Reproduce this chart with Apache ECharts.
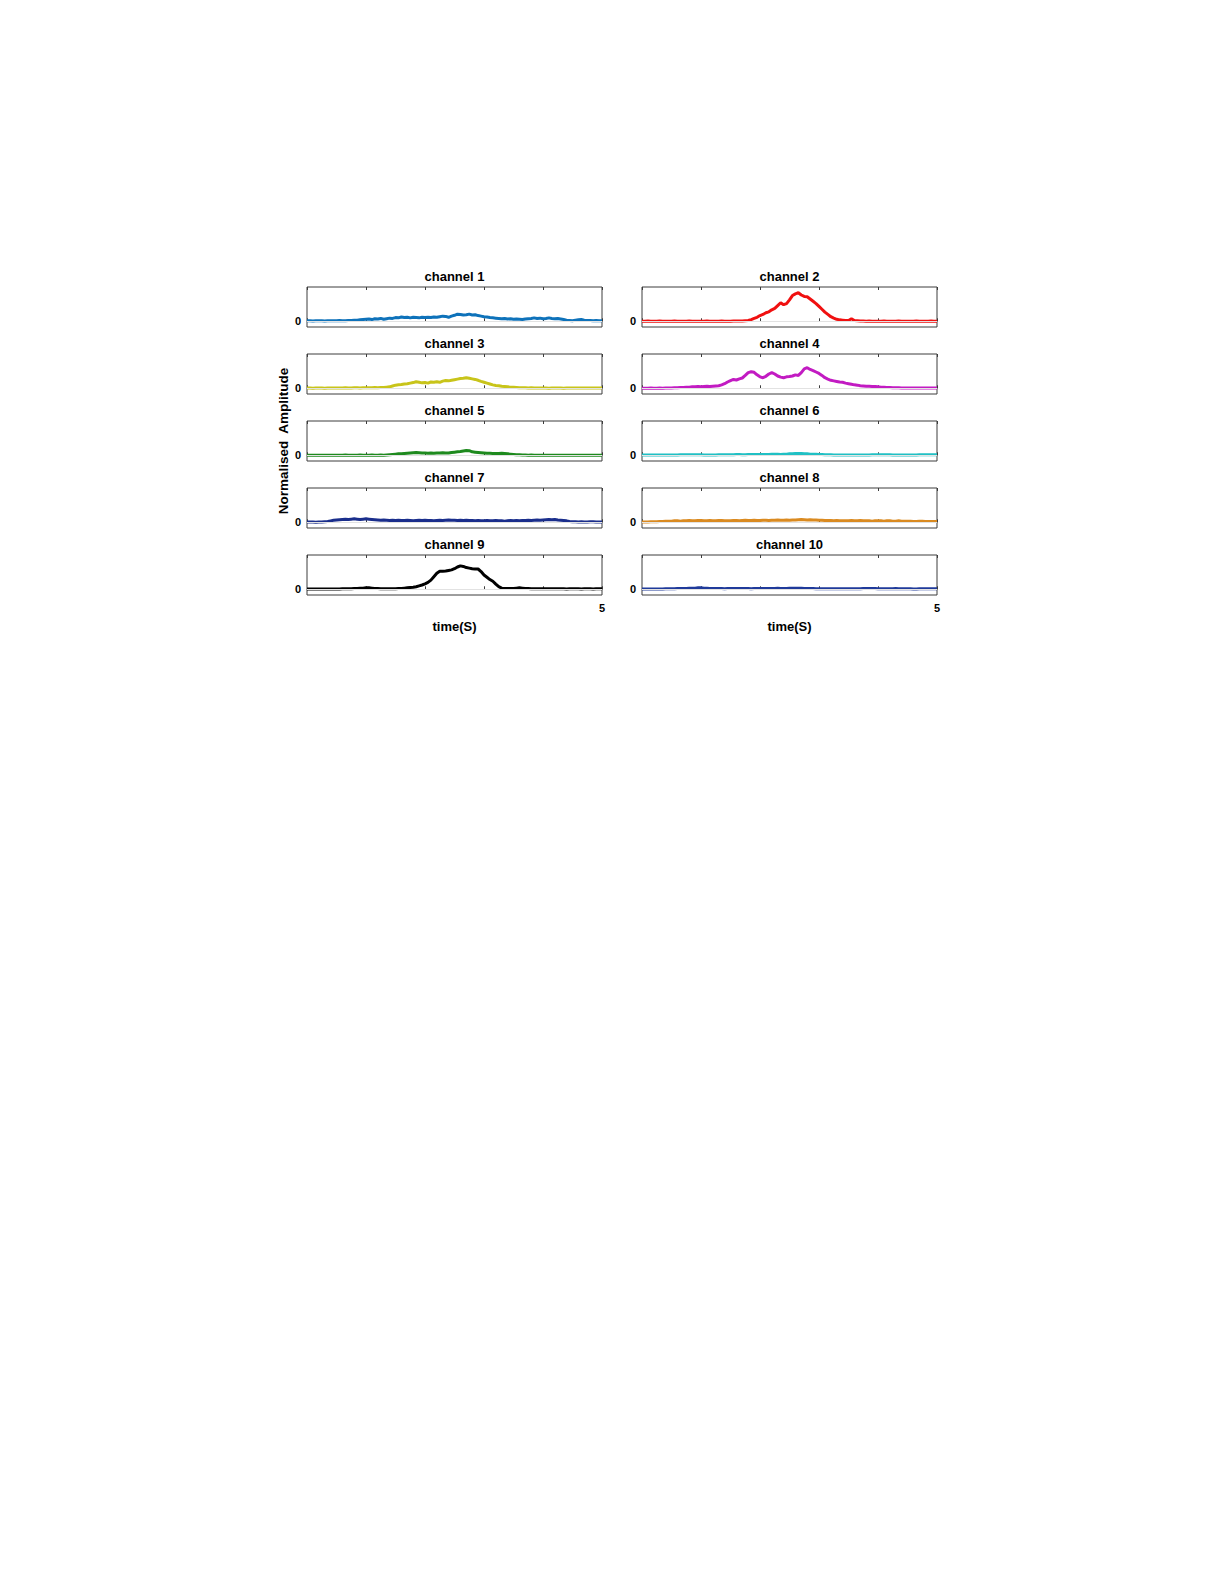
<!DOCTYPE html>
<html>
<head>
<meta charset="utf-8">
<script src="https://cdn.jsdelivr.net/npm/echarts@6/dist/echarts.min.js"></script>
<style>
html,body{margin:0;padding:0;background:#fff;}
#chart{width:1225px;height:1585px;}
</style>
</head>
<body>
<div id="chart"></div>
<script>
const times = [0,0.05,0.1,0.15,0.2,0.25,0.3,0.35,0.4,0.45,0.5,0.55,0.6,0.65,0.7,0.75,0.8,0.85,0.9,0.95,1,1.05,1.1,1.15,1.2,1.25,1.3,1.35,1.4,1.45,1.5,1.55,1.6,1.65,1.7,1.75,1.8,1.85,1.9,1.95,2,2.05,2.1,2.15,2.2,2.25,2.3,2.35,2.4,2.45,2.5,2.55,2.6,2.65,2.7,2.75,2.8,2.85,2.9,2.95,3,3.05,3.1,3.15,3.2,3.25,3.3,3.35,3.4,3.45,3.5,3.55,3.6,3.65,3.7,3.75,3.8,3.85,3.9,3.95,4,4.05,4.1,4.15,4.2,4.25,4.3,4.35,4.4,4.45,4.5,4.55,4.6,4.65,4.7,4.75,4.8,4.85,4.9,4.95,5];

const channelNames = ['channel 1','channel 2','channel 3','channel 4','channel 5','channel 6','channel 7','channel 8','channel 9','channel 10'];
const channelColors = ['#0E72BA','#F01010','#C8C41A','#C21BC2','#1E8A1E','#20C0C4','#1A2E8C','#DA8A20','#000000','#1F3A9A'];
const xTickLabels = ['5'];
const yTickLabels = ['0'];

const ch1 = [0.02,0.02,0.01,0.02,0.02,0.02,0.01,0.02,0.02,0.02,
0.02,0.03,0.02,0.02,0.03,0.03,0.04,0.04,0.05,0.06,
0.07,0.08,0.06,0.09,0.08,0.10,0.07,0.09,0.11,0.10,
0.13,0.12,0.15,0.13,0.14,0.12,0.14,0.13,0.12,0.14,
0.13,0.14,0.13,0.15,0.14,0.16,0.18,0.17,0.14,0.18,
0.21,0.25,0.24,0.22,0.23,0.25,0.22,0.23,0.20,0.18,
0.16,0.15,0.13,0.12,0.11,0.10,0.09,0.10,0.08,0.09,
0.07,0.08,0.07,0.06,0.08,0.09,0.10,0.12,0.10,0.11,
0.09,0.10,0.12,0.10,0.09,0.10,0.08,0.06,0.04,0.03,
0.02,0.04,0.05,0.06,0.04,0.03,0.03,0.02,0.03,0.02,
0.02];

const ch2 = [0.00,0.00,0.01,0.00,0.00,0.00,0.01,0.00,0.00,0.00,
0.00,0.01,0.00,0.00,0.00,0.00,0.01,0.00,0.00,0.00,
0.00,0.00,0.01,0.00,0.00,0.00,0.00,0.01,0.00,0.00,
0.00,0.01,0.01,0.01,0.01,0.02,0.03,0.06,0.10,0.14,
0.20,0.24,0.30,0.33,0.40,0.45,0.55,0.65,0.58,0.62,
0.75,0.90,0.96,1.00,0.92,0.87,0.86,0.78,0.70,0.62,
0.52,0.42,0.32,0.24,0.16,0.11,0.07,0.05,0.04,0.03,
0.03,0.09,0.03,0.02,0.01,0.01,0.00,0.01,0.00,0.00,
0.00,0.00,0.01,0.00,0.00,0.00,0.00,0.01,0.00,0.00,
0.00,0.00,0.00,0.01,0.00,0.00,0.00,0.00,0.01,0.00,
0.00];

const ch3 = [0.01,0.01,0.00,0.01,0.01,0.01,0.00,0.01,0.01,0.01,
0.01,0.01,0.01,0.02,0.01,0.01,0.02,0.02,0.01,0.02,
0.02,0.02,0.02,0.03,0.02,0.03,0.03,0.04,0.05,0.08,
0.11,0.12,0.13,0.15,0.16,0.18,0.20,0.23,0.21,0.19,
0.20,0.18,0.22,0.21,0.23,0.21,0.25,0.27,0.26,0.28,
0.30,0.32,0.34,0.35,0.37,0.35,0.33,0.31,0.28,0.24,
0.21,0.18,0.15,0.12,0.10,0.09,0.07,0.06,0.05,0.04,
0.04,0.03,0.02,0.02,0.02,0.01,0.02,0.01,0.01,0.01,
0.01,0.01,0.00,0.01,0.01,0.01,0.01,0.00,0.01,0.01,
0.01,0.01,0.01,0.01,0.01,0.01,0.01,0.01,0.01,0.01,
0.01];

const ch4 = [0.00,0.00,0.00,0.01,0.00,0.00,0.01,0.00,0.01,0.01,
0.01,0.02,0.02,0.03,0.03,0.04,0.04,0.05,0.05,0.06,
0.05,0.06,0.07,0.06,0.07,0.08,0.09,0.12,0.16,0.22,
0.27,0.31,0.29,0.33,0.36,0.45,0.55,0.58,0.56,0.47,
0.40,0.37,0.42,0.50,0.55,0.50,0.43,0.39,0.37,0.40,
0.41,0.43,0.47,0.45,0.55,0.68,0.72,0.66,0.62,0.57,
0.52,0.45,0.37,0.32,0.28,0.26,0.24,0.22,0.21,0.18,
0.16,0.14,0.12,0.11,0.09,0.08,0.07,0.07,0.06,0.06,
0.05,0.04,0.04,0.03,0.03,0.02,0.02,0.02,0.01,0.01,
0.01,0.01,0.01,0.01,0.01,0.01,0.01,0.01,0.01,0.01,
0.01];

const ch5 = [0.00,0.00,0.00,0.00,0.00,0.00,0.00,0.00,0.00,0.00,
0.00,0.00,0.00,0.01,0.00,0.00,0.00,0.00,0.01,0.00,
0.00,0.00,0.01,0.00,0.00,0.01,0.00,0.01,0.02,0.03,
0.04,0.05,0.05,0.06,0.07,0.08,0.09,0.10,0.09,0.08,
0.08,0.07,0.08,0.07,0.08,0.08,0.09,0.08,0.08,0.10,
0.11,0.12,0.13,0.15,0.17,0.16,0.12,0.11,0.10,0.09,
0.08,0.07,0.07,0.06,0.06,0.06,0.07,0.06,0.05,0.04,
0.03,0.02,0.02,0.01,0.01,0.00,0.01,0.00,0.00,0.00,
0.00,0.00,0.00,0.00,0.00,0.00,0.00,0.00,0.00,0.00,
0.00,0.00,0.00,0.00,0.00,0.00,0.00,0.00,0.00,0.00,
0.00];

const ch6 = [0.01,0.01,0.01,0.01,0.01,0.01,0.01,0.01,0.01,0.01,
0.01,0.01,0.01,0.02,0.02,0.02,0.02,0.02,0.02,0.02,
0.02,0.01,0.01,0.01,0.01,0.01,0.02,0.02,0.02,0.02,
0.02,0.02,0.03,0.03,0.02,0.02,0.03,0.03,0.03,0.03,
0.03,0.03,0.03,0.03,0.04,0.04,0.04,0.03,0.04,0.04,
0.05,0.05,0.06,0.06,0.06,0.05,0.05,0.04,0.04,0.04,
0.03,0.03,0.02,0.02,0.02,0.01,0.01,0.01,0.01,0.01,
0.01,0.01,0.01,0.01,0.01,0.01,0.01,0.01,0.02,0.02,
0.02,0.02,0.02,0.02,0.02,0.01,0.01,0.01,0.01,0.01,
0.01,0.01,0.01,0.01,0.02,0.02,0.02,0.02,0.02,0.02,
0.02];

const ch7 = [0.01,0.01,0.01,0.00,0.01,0.01,0.02,0.03,0.05,0.07,
0.08,0.09,0.10,0.11,0.10,0.11,0.12,0.11,0.10,0.11,
0.12,0.11,0.10,0.09,0.08,0.07,0.08,0.07,0.06,0.07,
0.06,0.07,0.06,0.06,0.07,0.06,0.05,0.06,0.07,0.06,
0.07,0.06,0.06,0.05,0.06,0.07,0.06,0.07,0.08,0.07,
0.07,0.06,0.07,0.06,0.07,0.06,0.06,0.05,0.06,0.05,
0.05,0.06,0.05,0.05,0.06,0.05,0.05,0.04,0.05,0.06,
0.05,0.06,0.05,0.06,0.06,0.07,0.06,0.07,0.08,0.07,
0.08,0.09,0.10,0.09,0.10,0.08,0.07,0.06,0.05,0.03,
0.02,0.02,0.01,0.02,0.01,0.01,0.02,0.02,0.01,0.01,
0.01];

const ch8 = [0.01,0.01,0.01,0.02,0.02,0.02,0.03,0.03,0.04,0.04,
0.04,0.05,0.05,0.04,0.05,0.05,0.06,0.05,0.05,0.06,
0.06,0.05,0.05,0.06,0.05,0.05,0.06,0.06,0.05,0.05,
0.05,0.06,0.06,0.05,0.06,0.07,0.06,0.06,0.07,0.06,
0.06,0.07,0.07,0.06,0.07,0.07,0.08,0.07,0.07,0.08,
0.07,0.08,0.08,0.09,0.10,0.09,0.08,0.09,0.08,0.08,
0.07,0.07,0.06,0.06,0.06,0.05,0.06,0.05,0.05,0.05,
0.05,0.06,0.05,0.05,0.06,0.05,0.05,0.05,0.04,0.05,
0.05,0.05,0.04,0.05,0.05,0.04,0.04,0.05,0.04,0.04,
0.04,0.04,0.03,0.03,0.04,0.04,0.03,0.03,0.03,0.03,
0.03];

const ch9 = [0.01,0.01,0.01,0.01,0.01,0.01,0.01,0.01,0.01,0.01,
0.01,0.01,0.02,0.02,0.02,0.02,0.03,0.03,0.04,0.04,
0.05,0.05,0.04,0.03,0.03,0.02,0.02,0.02,0.02,0.02,
0.02,0.03,0.03,0.04,0.05,0.06,0.07,0.09,0.12,0.15,
0.19,0.24,0.32,0.44,0.56,0.63,0.63,0.64,0.66,0.68,
0.72,0.78,0.82,0.80,0.76,0.74,0.72,0.71,0.71,0.62,
0.50,0.42,0.34,0.28,0.18,0.09,0.04,0.03,0.03,0.03,
0.03,0.04,0.05,0.04,0.03,0.03,0.02,0.02,0.02,0.02,
0.02,0.02,0.02,0.02,0.02,0.02,0.02,0.02,0.01,0.02,
0.02,0.02,0.02,0.01,0.02,0.02,0.02,0.01,0.02,0.02,
0.02];

const ch10 = [0.01,0.01,0.01,0.01,0.01,0.01,0.01,0.01,0.02,0.02,
0.02,0.02,0.03,0.03,0.03,0.03,0.04,0.04,0.04,0.05,
0.05,0.04,0.04,0.03,0.03,0.03,0.03,0.03,0.02,0.03,
0.03,0.03,0.03,0.03,0.03,0.03,0.03,0.02,0.03,0.03,
0.03,0.03,0.03,0.03,0.03,0.03,0.04,0.03,0.03,0.03,
0.04,0.04,0.04,0.04,0.04,0.03,0.03,0.03,0.03,0.02,
0.02,0.02,0.02,0.02,0.02,0.02,0.02,0.02,0.02,0.02,
0.02,0.02,0.02,0.02,0.02,0.03,0.03,0.03,0.03,0.03,
0.02,0.02,0.02,0.02,0.02,0.02,0.03,0.02,0.02,0.02,
0.02,0.02,0.01,0.01,0.02,0.02,0.02,0.02,0.02,0.02,
0.02];

const channelData = [ch1,ch2,ch3,ch4,ch5,ch6,ch7,ch8,ch9,ch10];

const FONT = '"Liberation Sans", Arial, Helvetica, sans-serif';
const grids = [], xAxes = [], yAxes = [], series = [], graphics = [];
const colLeft = [307, 642];
const plotW = 295, plotH = 40, rowTop0 = 287, rowStep = 67;

for (let k = 0; k < 10; k++) {
  const col = k % 2, row = Math.floor(k / 2);
  const top = rowTop0 + rowStep * row;
  grids.push({left: colLeft[col], top: top, width: plotW, height: plotH,
    show: true, borderColor: '#3c3c3c', borderWidth: 1, backgroundColor: '#ffffff', containLabel: false});
  const isBottom = row === 4;
  const baseX = {
    type: 'value', gridIndex: k, min: 0, max: 5, interval: 1,
    axisLine: {show: false},
    axisTick: {show: true, inside: true, length: 3, lineStyle: {color: '#3c3c3c', width: 1}},
    splitLine: {show: false}
  };
  xAxes.push(Object.assign({}, baseX, {
    position: 'bottom',
    axisLabel: {show: isBottom, showMaxLabel: true, showMinLabel: false, margin: 7,
      fontFamily: FONT, fontWeight: 'bold', fontSize: 11, color: '#000',
      formatter: v => (xTickLabels.indexOf(String(v)) >= 0 ? String(v) : '')},
    name: isBottom ? 'time(S)' : '', nameLocation: 'middle', nameGap: 25,
    nameTextStyle: {fontFamily: FONT, fontWeight: 'bold', fontSize: 13, color: '#000'}
  }));
  xAxes.push(Object.assign({}, baseX, {position: 'top', axisLabel: {show: false}}));
  yAxes.push({
    type: 'value', gridIndex: k, min: -0.2, max: 1.2, interval: 0.2,
    axisLine: {show: false}, axisTick: {show: false}, splitLine: {show: false},
    axisLabel: {margin: 6, fontFamily: FONT, fontWeight: 'bold', fontSize: 11, color: '#000',
      formatter: v => (Math.abs(v) < 1e-9 ? yTickLabels[0] : '')}
  });
  series.push({
    type: 'line', xAxisIndex: 2 * k, yAxisIndex: k, data: [], z: 1, silent: true,
    markLine: {silent: true, symbol: 'none', label: {show: false},
      lineStyle: {color: '#e2e2e2', width: 1, type: 'solid'}, data: [{yAxis: 0}]}
  });
  series.push({
    type: 'line', name: channelNames[k], xAxisIndex: 2 * k, yAxisIndex: k, z: 3,
    showSymbol: false, symbol: 'none', smooth: false,
    lineStyle: {color: channelColors[k], width: 3},
    itemStyle: {color: channelColors[k]},
    data: times.map((t, i) => [t, channelData[k][i]])
  });
  graphics.push({
    type: 'text', x: colLeft[col] + plotW / 2, y: top - 11,
    style: {text: channelNames[k], align: 'center', verticalAlign: 'middle',
      font: 'bold 13px ' + FONT, fill: '#000'}
  });
}

graphics.push({
  type: 'text', x: 283, y: 441, rotation: Math.PI / 2,
  style: {text: 'Normalised  Amplitude', align: 'center', verticalAlign: 'middle',
    font: 'bold 13.5px ' + FONT, fill: '#000'}
});

const chart = echarts.init(document.getElementById('chart'), null, {renderer: 'svg'});
chart.setOption({
  backgroundColor: '#ffffff',
  animation: false,
  grid: grids,
  xAxis: xAxes,
  yAxis: yAxes,
  series: series,
  graphic: graphics
});
</script>
</body>
</html>
